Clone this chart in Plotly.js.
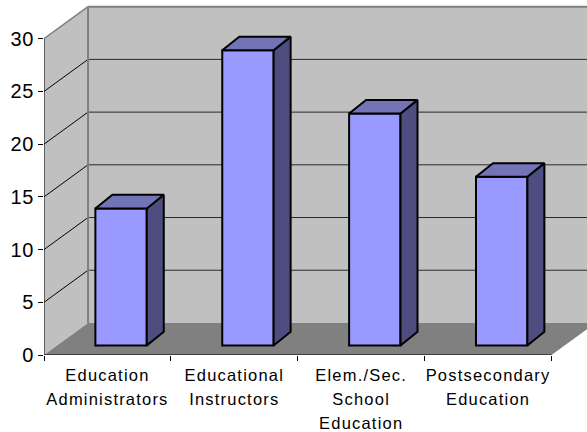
<!DOCTYPE html>
<html>
<head>
<meta charset="utf-8">
<script src="https://cdn.plot.ly/plotly-3.0.1.min.js"></script>
<style>
html,body{margin:0;padding:0;background:#fff;overflow:hidden}
.xtick text{letter-spacing:1.2px}
.ytick text{letter-spacing:0.6px}
</style>
</head>
<body>
<div id="chart" style="width:587px;height:432px"></div>
<script>
// Data
const categories = [
  "Education<br>Administrators",
  "Educational<br>Instructors",
  "Elem./Sec.<br>School<br>Education",
  "Postsecondary<br>Education"
];
const values = [13, 28, 22, 16];
const yTicks = [0, 5, 10, 15, 20, 25, 30];
const catEdges = [0, 1, 2, 3, 4];

// Pseudo-3D geometry, in axis units
const wallDx = 0.347, wallDy = 3.04;
const barDx = 0.134, barDy = 1.30;
const barLift = 0.9, barStart = 0.405, barWidth = 0.405;
const yMax = 30, xMax = 4;

const barX = values.map((_, i) => i + barStart + barWidth / 2);

const bars = {
  type: 'bar', x: barX, y: values, base: values.map(() => barLift), width: barWidth,
  marker: {color: '#9999FF', line: {color: '#000', width: 2}},
  hoverinfo: 'skip', showlegend: false
};

function poly(xs, ys, color) {
  return {type: 'scatter', mode: 'lines', x: xs, y: ys, fill: 'toself', fillcolor: color,
    line: {color: '#000', width: 2}, hoverinfo: 'skip', showlegend: false};
}
const faces = [];
values.forEach((v, i) => {
  const l = i + barStart, r = l + barWidth, b = barLift, t = barLift + v;
  faces.push(poly([r, r + barDx, r + barDx, r, r], [b, b + barDy, t + barDy, t, b], '#4D4D80'));
  faces.push(poly([l, l + barDx, r + barDx, r, l], [t, t + barDy, t + barDy, t, t], '#7373B8'));
});

function path(pts) {
  return 'M' + pts.map(p => p[0] + ',' + p[1]).join('L') + 'Z';
}
const shapeBase = {xref: 'x', yref: 'y', layer: 'below'};
const shapes = [
  // back wall
  {...shapeBase, type: 'rect', x0: wallDx, x1: xMax + wallDx, y0: wallDy, y1: yMax + wallDy,
    fillcolor: '#C0C0C0', line: {width: 0}},
  // left wall
  {...shapeBase, type: 'path', path: path([[0, 0], [wallDx, wallDy], [wallDx, yMax + wallDy], [0, yMax]]),
    fillcolor: '#C0C0C0', line: {width: 0}}
];
yTicks.filter(v => v > 0 && v < yMax).forEach(v => {
  shapes.push({...shapeBase, type: 'line', x0: wallDx, x1: xMax + wallDx, y0: v + wallDy, y1: v + wallDy,
    line: {color: '#2a2a2a', width: 1}});
  shapes.push({...shapeBase, type: 'line', x0: 0, x1: wallDx, y0: v, y1: v + wallDy,
    line: {color: '#000', width: 1}});
});
shapes.push(
  // floor
  {...shapeBase, type: 'path', path: path([[0, 0], [xMax, 0], [xMax + wallDx, wallDy], [wallDx, wallDy]]),
    fillcolor: '#808080', line: {width: 0}},
  // wall edges
  {...shapeBase, type: 'line', x0: wallDx, x1: wallDx, y0: wallDy, y1: yMax + wallDy, line: {color: '#808080', width: 2}},
  {...shapeBase, type: 'line', x0: wallDx, x1: xMax + wallDx, y0: yMax + wallDy, y1: yMax + wallDy, line: {color: '#808080', width: 2}},
  {...shapeBase, type: 'line', x0: 0, x1: wallDx, y0: yMax, y1: yMax + wallDy, line: {color: '#808080', width: 1.5}},
  // axis lines
  {...shapeBase, type: 'line', x0: 0, x1: 0, y0: 0, y1: yMax, line: {color: '#000', width: 1}},
  {...shapeBase, type: 'line', x0: 0, x1: xMax, y0: 0, y1: 0, line: {color: '#000', width: 1}}
);

const labelFont = 'Liberation Sans, Arial, sans-serif';
const layout = {
  width: 587, height: 432,
  margin: {l: 44, r: 0, t: 4, b: 77.3, pad: 0},
  paper_bgcolor: '#fff', plot_bgcolor: 'rgba(0,0,0,0)',
  showlegend: false,
  shapes: shapes,
  xaxis: {
    range: [0, 4.28], showgrid: false, zeroline: false, showline: false,
    tickmode: 'array',
    tickvals: categories.map((_, i) => i + 0.5),
    ticktext: categories.map(c => c.split('<br>').map(s => '<span style="font-size:16.5px">' + s + '</span>').join('<br>')),
    ticks: '', tickangle: 0, ticklabelstandoff: 6,
    tickfont: {family: labelFont, size: 18.5, color: '#000'},
    minor: {tickmode: 'array', tickvals: catEdges, ticks: 'outside', ticklen: 5, tickwidth: 1, tickcolor: '#000', showgrid: false}
  },
  yaxis: {
    range: [0, 33.295], showgrid: false, zeroline: false, showline: false,
    tickmode: 'array', tickvals: yTicks, ticktext: yTicks.map(String),
    ticks: 'outside', ticklen: 5, tickwidth: 1, tickcolor: '#000',
    tickfont: {family: labelFont, size: 20, color: '#000'}
  }
};

Plotly.newPlot('chart', [bars].concat(faces), layout, {displayModeBar: false, staticPlot: true});
</script>
</body>
</html>
